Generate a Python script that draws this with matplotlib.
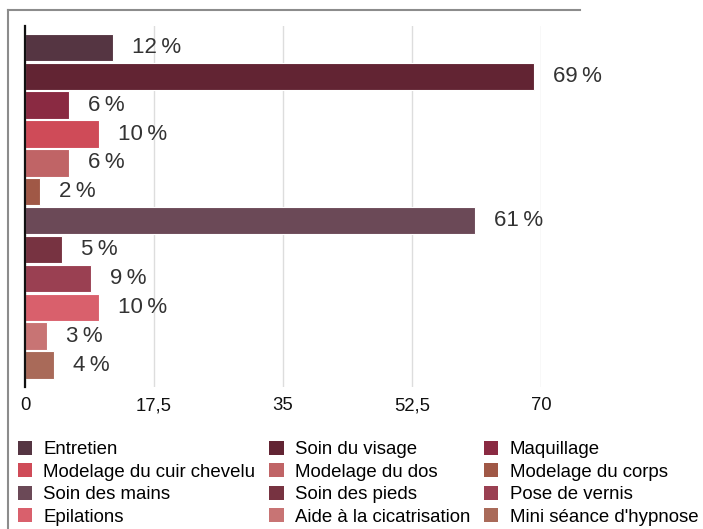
import matplotlib
matplotlib.use("Agg")
import matplotlib.pyplot as plt
from matplotlib.patches import Patch
from matplotlib.lines import Line2D

plt.rcParams['font.family'] = ['Liberation Sans', 'DejaVu Sans']

categories = ["Entretien", "Soin du visage", "Maquillage", "Modelage du cuir chevelu",
              "Modelage du dos", "Modelage du corps", "Soin des mains", "Soin des pieds",
              "Pose de vernis", "Epilations", "Aide à la cicatrisation", "Mini séance d'hypnose"]
values = [12, 69, 6, 10, 6, 2, 61, 5, 9, 10, 3, 4]
colors = ["#553542", "#622433", "#8A2A42", "#CF4B58", "#C06466", "#A05846",
          "#6B4957", "#773341", "#9A4052", "#D9606C", "#C87474", "#A96A59"]
xticks = [0, 17.5, 35, 52.5, 70]
xticklabels = ["0", "17,5", "35", "52,5", "70"]

W, H = 703, 529
fig = plt.figure(figsize=(W / 100, H / 100), dpi=100)

# axes in pixel coords: x 25..541, y 26..387
ax = fig.add_axes([25 / W, (H - 387) / H, (541 - 25) / W, (387 - 26) / H])
n = len(values)
ypos = list(range(n))
ax.barh(ypos, values, height=0.95, color=colors, edgecolor="white", linewidth=0.8, zorder=3)
ax.set_ylim(n - 0.5 + 0.26, -0.5 - 0.24)
ax.set_xlim(0, 70)
ax.set_xticks(xticks)
ax.set_xticklabels(xticklabels, fontsize=13.3, color="#111111")
ax.tick_params(axis='x', length=0, pad=7.5)
ax.set_yticks([])
ax.grid(axis='x', color="#dddddd", linewidth=1, zorder=0)
for s in ["top", "right", "bottom"]:
    ax.spines[s].set_visible(False)
ax.spines["left"].set_color("#111111")
ax.spines["left"].set_linewidth(1.6)
ax.spines["left"].set_zorder(4)

for y, v in zip(ypos, values):
    ax.annotate(f"{v}\u2009%", xy=(v, y), xytext=(19, 0), textcoords="offset pixels",
                va="center", ha="left", fontsize=16, color="#333333", annotation_clip=False)

# outer frame lines
fig.add_artist(Line2D([8 / W, 8 / W], [0, (H - 10) / H], color="#8c8c8c", linewidth=1.5,
                      transform=fig.transFigure))
fig.add_artist(Line2D([8 / W, 580 / W], [(H - 10) / H, (H - 10) / H], color="#8c8c8c",
                      linewidth=1.5, transform=fig.transFigure))

# legend row-wise ordering: 3 columns, 4 rows
ncol = 3
nrow = 4
handles = [Patch(facecolor=c, edgecolor="none") for c in colors]
order = [r * ncol + c for c in range(ncol) for r in range(nrow)]
fig.legend([handles[i] for i in order], [categories[i] for i in order],
           ncol=ncol, loc="upper left", bbox_to_anchor=(18 / W, (H - 441) / H),
           frameon=False, fontsize=13.4, handlelength=0.76, handleheight=0.76,
           handletextpad=0.6, columnspacing=0.76, labelspacing=0.27,
           borderpad=0, borderaxespad=0)

fig.savefig("out.png", dpi=100)
